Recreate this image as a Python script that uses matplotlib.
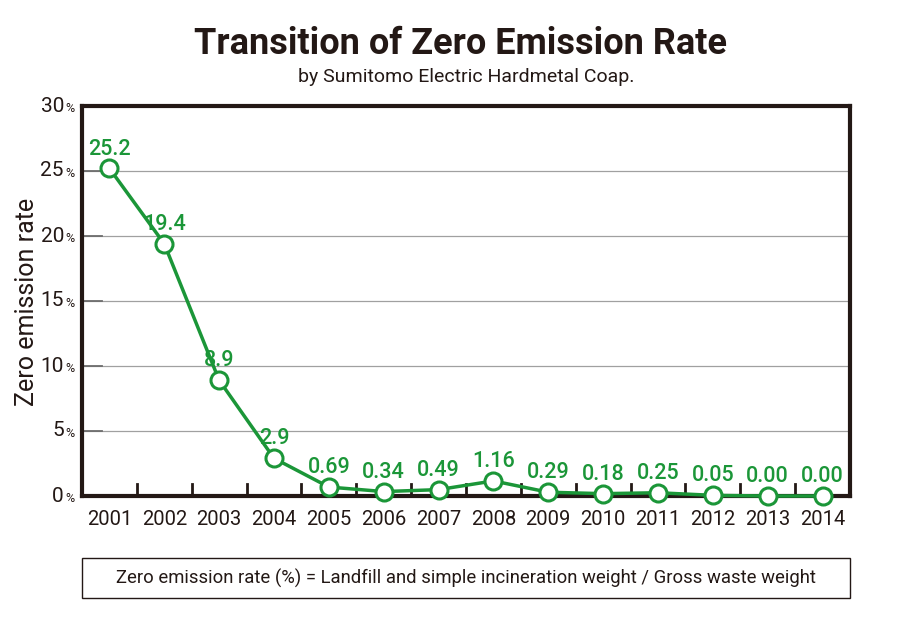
import matplotlib.pyplot as plt
from matplotlib.patches import Rectangle

years = ["2001", "2002", "2003", "2004", "2005", "2006", "2007",
         "2008", "2009", "2010", "2011", "2012", "2013", "2014"]
rates = [25.2, 19.4, 8.9, 2.9, 0.69, 0.34, 0.49, 1.16, 0.29, 0.18, 0.25, 0.05, 0.00, 0.00]
labels = ["25.2", "19.4", "8.9", "2.9", "0.69", "0.34", "0.49", "1.16",
          "0.29", "0.18", "0.25", "0.05", "0.00", "0.00"]
yticks = [0, 5, 10, 15, 20, 25, 30]

GREEN = "#1b9638"
DARK = "#231815"
FONT = ["Roboto", "DejaVu Sans"]

fig = plt.figure(figsize=(9.24, 6.43), dpi=100)
W, H = 924, 643
ax = fig.add_axes([82 / W, 1 - 496 / H, (850 - 82) / W, (496 - 106) / H])

x = list(range(len(years)))
ax.plot(x, rates, color=GREEN, lw=2.5, zorder=3, clip_on=False)
ax.scatter(x, rates, s=150, facecolor="white", edgecolor=GREEN, linewidth=2.2,
           zorder=4, clip_on=False)
for xi, v, lab in zip(x, rates, labels):
    ax.annotate(lab, (xi, v), xytext=(0, 10), textcoords="offset points",
                ha="center", va="baseline", color=GREEN, fontsize=15.5,
                fontweight="medium", family=FONT, zorder=5)

ax.set_xlim(-0.5, len(years) - 0.5)
ax.set_ylim(0, 30)
for gy in yticks[1:-1]:
    ax.axhline(gy, color="#a0a0a0", lw=0.9, zorder=1)
    ax.plot([-0.5, -0.14], [gy, gy], color="#6d6d6d", lw=1.3, zorder=1)

for s in ax.spines.values():
    s.set_color(DARK)
    s.set_linewidth(3)

ax.set_yticks(yticks)
ax.set_yticklabels([])
ax.tick_params(axis="y", length=0)
for t in yticks:
    ax.annotate(str(t), (0, t), xycoords=("axes fraction", "data"),
                xytext=(-13, 0), textcoords="offset points", ha="right",
                va="center", fontsize=15, color=DARK, family=FONT)
    ax.annotate("%", (0, t), xycoords=("axes fraction", "data"),
                xytext=(-5.5, -1.5), textcoords="offset points", ha="right",
                va="center", fontsize=9, color=DARK, family=FONT)

ax.set_xticks(x)
ax.set_xticklabels(years, fontsize=14.5, color=DARK, family=FONT)
ax.tick_params(axis="x", length=0, pad=10)
for b in range(1, len(years)):
    ax.plot([b - 0.5, b - 0.5], [0, 0.9], color=DARK, lw=2, zorder=2)

fig.text(27 / W, 1 - 302 / H, "Zero emission rate", rotation=90, ha="center",
         va="center", fontsize=18, color=DARK, family=FONT)

fig.text(461 / W, 1 - 44 / H, "Transition of Zero Emission Rate", ha="center",
         va="center", fontsize=26, fontweight="bold", color=DARK, family=FONT)
fig.text(466 / W, 1 - 77 / H, "by Sumitomo Electric Hardmetal Coap.", ha="center",
         va="center", fontsize=14, color=DARK, family=FONT)

fig.patches.append(Rectangle((82 / W, 1 - 598 / H), (850 - 82) / W, 40 / H,
                             transform=fig.transFigure, fill=False,
                             edgecolor=DARK, lw=1))
fig.text(466 / W, 1 - 578 / H,
         "Zero emission rate (%) = Landfill and simple incineration weight / Gross waste weight",
         ha="center", va="center", fontsize=13.3, color=DARK, family=FONT)

fig.savefig("out.png", dpi=100)
